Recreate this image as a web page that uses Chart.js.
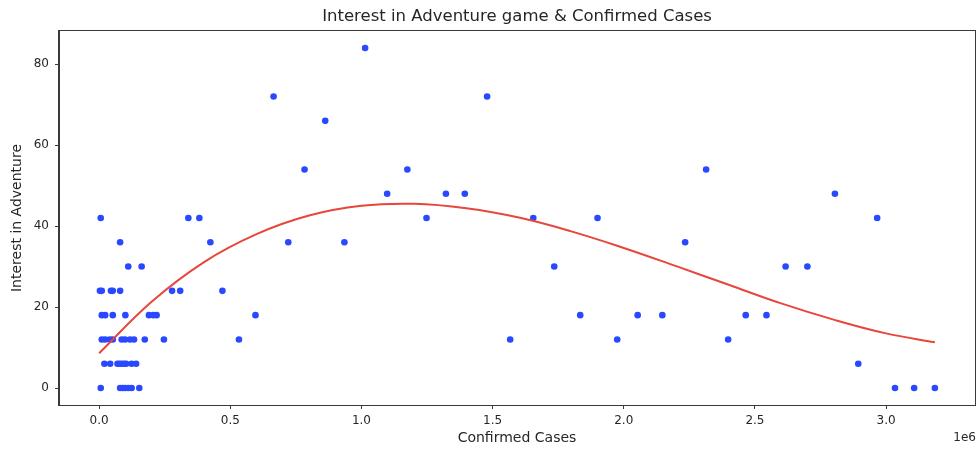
<!DOCTYPE html>
<html>
<head>
<meta charset="utf-8">
<script src="https://cdn.jsdelivr.net/npm/chart.js@4.4.1/dist/chart.umd.min.js"></script>
<style>
  html, body { margin: 0; padding: 0; background: #ffffff; }
  #wrap { width: 979px; height: 450px; }
</style>
</head>
<body>
<div id="wrap"><canvas id="chart" width="979" height="450"></canvas></div>
<script>
// Weekly interest in the Adventure genre against cumulative confirmed cases
const confirmedCases = [
  // interest 0
  6000, 80000, 90000, 99000, 111000, 124000, 153000, 3034000, 3107000, 3186000,
  // interest 6
  20000, 42000, 70000, 77000, 86000, 95000, 103000, 124000, 141000, 2894000,
  // interest 12
  10000, 23000, 40000, 52000, 86000, 99000, 118000, 133000, 174000, 247000, 533000, 1567000, 1975000, 2398000,
  // interest 18
  10000, 23000, 52000, 100000, 190000, 206000, 219000, 596000, 1834000, 2053000, 2147000, 2465000, 2544000,
  // interest 24
  3000, 10000, 45000, 52000, 80000, 278000, 309000, 470000,
  // interest 30
  111000, 162000, 1735000, 2617000, 2700000,
  // interest 36
  80000, 424000, 721000, 935000, 2234000,
  // interest 42
  6000, 340000, 382000, 1248000, 1655000, 1900000, 2966000,
  // interest 48
  1098000, 1322000, 1394000, 2805000,
  // interest 54
  783000, 1175000, 2314000,
  // interest 66, 72, 84
  862000, 665000, 1479000, 1014000
];
const interest = [
  0, 0, 0, 0, 0, 0, 0, 0, 0, 0,
  6, 6, 6, 6, 6, 6, 6, 6, 6, 6,
  12, 12, 12, 12, 12, 12, 12, 12, 12, 12, 12, 12, 12, 12,
  18, 18, 18, 18, 18, 18, 18, 18, 18, 18, 18, 18, 18,
  24, 24, 24, 24, 24, 24, 24, 24,
  30, 30, 30, 30, 30,
  36, 36, 36, 36, 36,
  42, 42, 42, 42, 42, 42, 42,
  48, 48, 48, 48,
  54, 54, 54,
  66, 72, 72, 84
];

// Polynomial trend line, sampled along the case range
const trendCases = [0, 200000, 400000, 600000, 800000, 1000000, 1200000, 1400000, 1600000,
  1800000, 2000000, 2200000, 2400000, 2600000, 2800000, 3000000, 3186000];
const trendInterest = [8.6, 21.3, 31.1, 38.0, 42.6, 45.0, 45.5, 44.4, 42.1,
  38.7, 34.6, 30.1, 25.5, 20.9, 16.9, 13.5, 11.3];

const xTickValues = [0, 500000, 1000000, 1500000, 2000000, 2500000, 3000000];
const yTickValues = [0, 20, 40, 60, 80];

const FONT = "'DejaVu Sans', sans-serif";
const TEXT = '#262626';
const AXIS = '#3a3a3a';

const scatterPoints = confirmedCases.map((c, i) => ({ x: c, y: interest[i] }));
const trendPoints = trendCases.map((c, i) => ({ x: c, y: trendInterest[i] }));

// Title, top/right spines and the scale offset text
const decorations = {
  id: 'decorations',
  afterDraw(chart) {
    const { ctx, chartArea: a } = chart;
    ctx.save();
    ctx.strokeStyle = AXIS;
    ctx.lineWidth = 1;
    ctx.strokeRect(Math.round(a.left) - 0.5, Math.round(a.top) - 0.5,
      Math.round(a.right - a.left) + 1, Math.round(a.bottom - a.top) + 1);
    ctx.fillStyle = TEXT;
    ctx.font = "16.5px " + FONT;
    ctx.textAlign = 'center';
    ctx.textBaseline = 'middle';
    ctx.fillText('Interest in Adventure game & Confirmed Cases', (a.left + a.right) / 2, 17);
    ctx.font = "12px " + FONT;
    ctx.textAlign = 'right';
    ctx.fillText('1e6', a.right + 1, 438);
    ctx.restore();
  }
};

new Chart(document.getElementById('chart'), {
  data: {
    datasets: [
      {
        type: 'line',
        data: trendPoints,
        borderColor: '#e8453c',
        borderWidth: 2,
        pointRadius: 0,
        tension: 0.4,
        fill: false,
        order: 0
      },
      {
        type: 'scatter',
        data: scatterPoints,
        backgroundColor: '#2a48ff',
        borderWidth: 0,
        pointRadius: 3.3,
        order: 1
      }
    ]
  },
  options: {
    responsive: false,
    animation: false,
    devicePixelRatio: 1,
    layout: { padding: { top: 31, right: 2, left: 0, bottom: 0 } },
    plugins: {
      legend: { display: false },
      tooltip: { enabled: false },
      title: { display: false }
    },
    scales: {
      x: {
        type: 'linear',
        position: 'bottom',
        min: -153000,
        max: 3339000,
        afterBuildTicks: s => { s.ticks = xTickValues.map(v => ({ value: v })); },
        afterFit: s => { s.height = 45; },
        ticks: {
          autoSkip: false,
          maxRotation: 0,
          padding: 5,
          color: TEXT,
          font: { family: FONT, size: 12 },
          callback: v => (v / 1e6).toFixed(1)
        },
        grid: { drawOnChartArea: false, drawTicks: true, tickLength: 4, color: AXIS },
        border: { display: true, color: AXIS, width: 1 },
        title: {
          display: true,
          text: 'Confirmed Cases',
          color: TEXT,
          font: { family: FONT, size: 14 },
          padding: { top: 0, bottom: 3 }
        }
      },
      y: {
        type: 'linear',
        position: 'left',
        min: -4.2,
        max: 88.2,
        afterBuildTicks: s => { s.ticks = yTickValues.map(v => ({ value: v })); },
        afterFit: s => { s.width = 59; },
        ticks: {
          padding: 6,
          color: TEXT,
          font: { family: FONT, size: 12 }
        },
        grid: { drawOnChartArea: false, drawTicks: true, tickLength: 4, color: AXIS },
        border: { display: true, color: AXIS, width: 1 },
        title: {
          display: true,
          text: 'Interest in Adventure',
          color: TEXT,
          font: { family: FONT, size: 14 },
          padding: { top: 9, bottom: 0 }
        }
      }
    }
  },
  plugins: [decorations]
});
</script>
</body>
</html>
